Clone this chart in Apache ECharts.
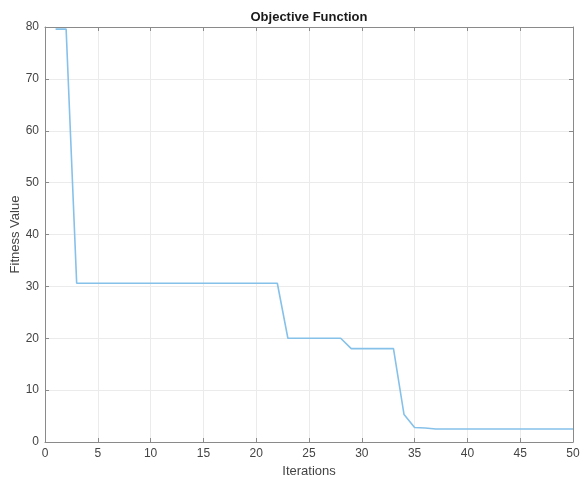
<!DOCTYPE html>
<html>
<head>
<meta charset="utf-8">
<script src="https://cdn.jsdelivr.net/npm/echarts@6/dist/echarts.min.js"></script>
<style>html,body{margin:0;padding:0;background:#fff;}#c{width:580px;height:479px;}</style>
</head>
<body>
<div id="c"></div>
<script>
const iterations = [1,2,3,4,5,6,7,8,9,10,11,12,13,14,15,16,17,18,19,20,21,22,23,24,25,26,27,28,29,30,31,32,33,34,35,36,37,38,39,40,41,42,43,44,45,46,47,48,49,50];
const fitness = [79.6,79.6,30.6,30.6,30.6,30.6,30.6,30.6,30.6,30.6,30.6,30.6,30.6,30.6,30.6,30.6,30.6,30.6,30.6,30.6,30.6,30.6,20.0,20.0,20.0,20.0,20.0,20.0,18.0,18.0,18.0,18.0,18.0,5.3,2.8,2.7,2.5,2.5,2.5,2.5,2.5,2.5,2.5,2.5,2.5,2.5,2.5,2.5,2.5,2.5];
const titleText = 'Objective Function';
const xName = 'Iterations';
const yName = 'Fitness Value';

const chart = echarts.init(document.getElementById('c'));
const axisLine = {show:true, onZero:false, lineStyle:{color:'#8a8a8a', width:1}};
const tick = {show:true, inside:true, length:4, lineStyle:{color:'#8a8a8a'}};
const font = 'Helvetica, Arial, "Liberation Sans", sans-serif';
chart.setOption({
  animation:false,
  title:{text:titleText, left:304, top:6, textAlign:'center',
    textStyle:{fontFamily:font, fontSize:13, fontWeight:'bold', color:'#1a1a1a'}},
  grid:{left:45, right:7, top:27, bottom:37, containLabel:false, outerBoundsMode:'none'},
  xAxis:[{
    type:'value', min:0, max:50, interval:5,
    name:xName, nameLocation:'middle', nameGap:23, nameMoveOverlap:false,
    nameTextStyle:{fontFamily:font, fontSize:13, color:'#444'},
    axisLine:axisLine, axisTick:tick,
    axisLabel:{fontFamily:font, fontSize:12, color:'#444', margin:6},
    splitLine:{show:true, lineStyle:{color:'#ebebeb', width:1}}
  },{
    type:'value', min:0, max:50, interval:5, position:'top',
    axisLine:axisLine, axisTick:tick,
    axisLabel:{show:false}, splitLine:{show:false}
  }],
  yAxis:[{
    type:'value', min:0, max:80, interval:10,
    name:yName, nameLocation:'middle', nameGap:23, nameMoveOverlap:false,
    nameTextStyle:{fontFamily:font, fontSize:13, color:'#444'},
    axisLine:axisLine, axisTick:tick,
    axisLabel:{fontFamily:font, fontSize:12, color:'#444', margin:6},
    splitLine:{show:true, lineStyle:{color:'#ebebeb', width:1}}
  },{
    type:'value', min:0, max:80, interval:10, position:'right',
    axisLine:axisLine, axisTick:tick,
    axisLabel:{show:false}, splitLine:{show:false}
  }],
  series:[{
    type:'line', showSymbol:false, symbol:'none',
    data: iterations.map((x,i)=>[x, fitness[i]]),
    lineStyle:{color:'#86c1ea', width:1.6},
    itemStyle:{color:'#86c1ea'}
  }]
});
</script>
</body>
</html>
